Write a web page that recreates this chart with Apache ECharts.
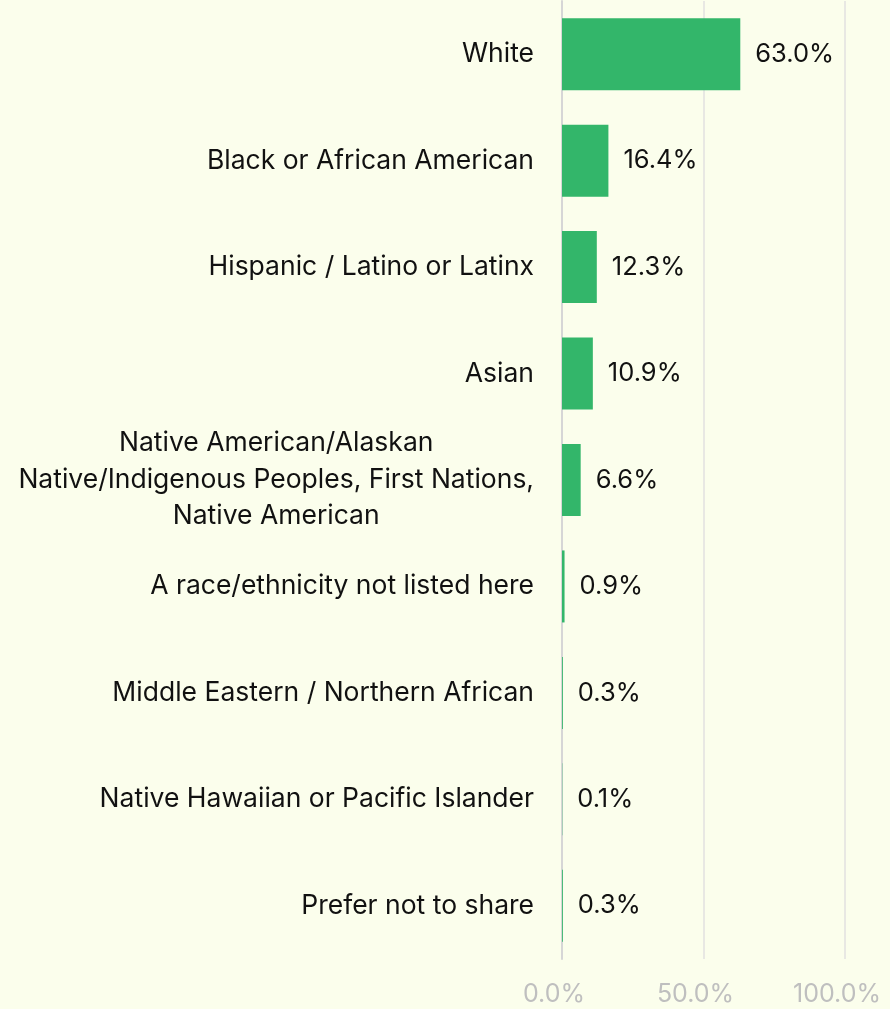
<!DOCTYPE html>
<html><head><meta charset="utf-8">
<script src="https://cdn.jsdelivr.net/npm/echarts@6/dist/echarts.min.js"></script>
<style>html,body{margin:0;padding:0;background:#FBFEEC;}#c{width:890px;height:1009px;}</style>
</head><body><div id="c"></div>
<script>
const categories = [
  "White",
  "Black or African American",
  "Hispanic / Latino or Latinx",
  "Asian",
  "Native American/Alaskan\nNative/Indigenous Peoples, First Nations,\nNative American",
  "A race/ethnicity not listed here",
  "Middle Eastern / Northern African",
  "Native Hawaiian or Pacific Islander",
  "Prefer not to share"
];
const values = [63.0, 16.4, 12.3, 10.9, 6.6, 0.9, 0.3, 0.1, 0.3];
const xTicks = [0, 50, 100];

const chart = echarts.init(document.getElementById('c'));
const font = 'Inter, "Liberation Sans", sans-serif';
chart.setOption({
  backgroundColor: '#FBFEEC',
  animation: false,
  grid: {left: 562, right: 45, top: 1, bottom: 50, containLabel: false},
  xAxis: {
    type: 'value', min: 0, max: 100, interval: 50,
    axisLine: {show: false}, axisTick: {show: false},
    splitLine: {show: true, lineStyle: {color: '#E8E8E3', width: 2}},
    axisLabel: {color: '#BFBFBF', fontSize: 25, fontFamily: font, margin: 23,
      padding: [0, 16, 0, 0],
      formatter: v => v.toFixed(1) + '%'}
  },
  yAxis: {
    type: 'category', data: categories, inverse: true,
    axisLine: {show: true, lineStyle: {color: '#D6D6D6', width: 2}},
    axisTick: {show: false},
    axisLabel: {
      color: '#111', fontSize: 26.5, fontFamily: font, margin: 28, lineHeight: 36.5,
      formatter: v => v.split('\n').map(s => '{c|' + s + '}').join('\n'),
      rich: {c: {align: 'center', fontSize: 26.5, fontFamily: font, color: '#111', lineHeight: 36.5}}
    }
  },
  series: [{
    type: 'bar', data: values, barWidth: 72,
    itemStyle: {color: '#33B66A'},
    label: {show: true, position: 'right', distance: 15, color: '#111', fontSize: 25.5, fontFamily: font,
      formatter: p => p.value.toFixed(1) + '%'}
  }]
});
</script></body></html>
